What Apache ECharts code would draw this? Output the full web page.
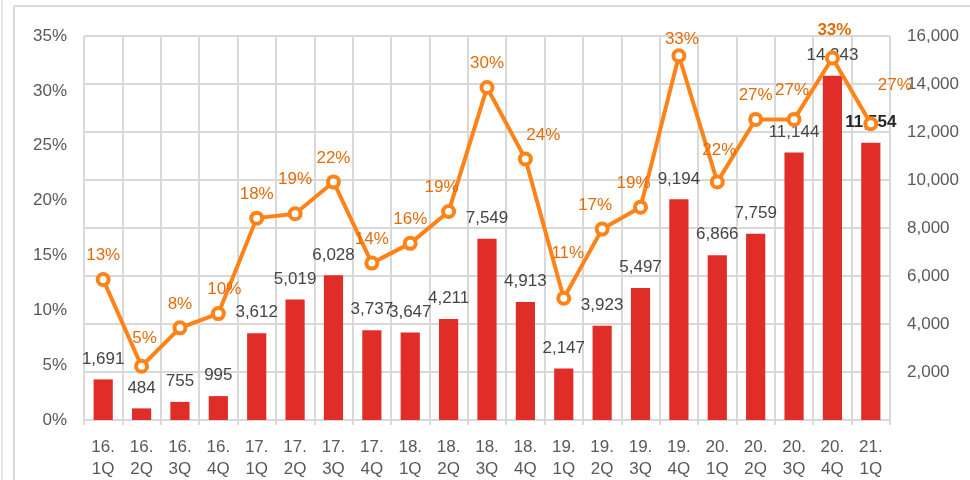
<!DOCTYPE html>
<html>
<head>
<meta charset="utf-8">
<script src="https://cdn.jsdelivr.net/npm/echarts@6/dist/echarts.min.js"></script>
<style>
  html, body { margin: 0; padding: 0; background: #ffffff; }
  #chart { width: 970px; height: 480px; }
</style>
</head>
<body>
<div id="chart"></div>
<script>
// 季度
const quarters = ['16.1Q', '16.2Q', '16.3Q', '16.4Q', '17.1Q', '17.2Q', '17.3Q', '17.4Q', '18.1Q', '18.2Q', '18.3Q',
  '18.4Q', '19.1Q', '19.2Q', '19.3Q', '19.4Q', '20.1Q', '20.2Q', '20.3Q', '20.4Q', '21.1Q']
// 柱状图数值（右轴）
const barValues = [1691, 484, 755, 995, 3612, 5019, 6028, 3737, 3647, 4211, 7549,
  4913, 2147, 3923, 5497, 9194, 6866, 7759, 11144, 14343, 11554]
// 折线图百分比（左轴）
const lineValues = [12.8, 4.9, 8.4, 9.7, 18.4, 18.8, 21.7, 14.3, 16.1, 19.0, 30.3,
  23.8, 11.1, 17.4, 19.4, 33.2, 21.7, 27.4, 27.4, 33.0, 27.0]
// 刻度
const leftTicks = { min: 0, max: 35, interval: 5 }
const rightTicks = { min: 0, max: 16000, interval: 2000 }

// 折线标签的手动偏移（样式）
const lineLabelOffset = {
  1: [3, -4], 3: [6, 0], 5: [0, -10], 9: [-7, 0], 11: [18, 0], 12: [4, -21],
  13: [-7, 0], 14: [-7, 0], 15: [3, 8], 16: [2, -8], 18: [-2, -5], 19: [2, -4], 20: [24, -14]
}

const fontFamily = '"Liberation Sans", Arial, sans-serif'
const last = barValues.length - 1

const barData = barValues.map((v, i) => {
  const item = { value: v }
  if (i === last) {
    item.label = { fontWeight: 'bold', color: '#262626' }
  }
  return item
})

const lineData = lineValues.map((v, i) => {
  const item = { value: v }
  const label = {}
  if (lineLabelOffset[i]) label.offset = lineLabelOffset[i]
  if (i === 19) label.fontWeight = 'bold'
  item.label = label
  return item
})

const myChart = echarts.init(document.getElementById('chart'))

const options = {
  animation: false,
  textStyle: { fontFamily },
  graphic: [
    { type: 'line', shape: { x1: 14, y1: 6, x2: 970, y2: 6 }, style: { stroke: '#dcdcdc', lineWidth: 2 } },
    { type: 'line', shape: { x1: 14, y1: 6, x2: 14, y2: 480 }, style: { stroke: '#dcdcdc', lineWidth: 2 } },
    { type: 'line', shape: { x1: 2, y1: 0, x2: 2, y2: 480 }, style: { stroke: '#e6e6e6', lineWidth: 2 } }
  ],
  grid: {
    left: 84,
    right: 80,
    top: 36,
    bottom: 60
  },
  xAxis: {
    type: 'category',
    data: quarters,
    boundaryGap: true,
    axisLine: { lineStyle: { color: '#d9d9d9', width: 2 } },
    axisTick: { show: true, length: 5, lineStyle: { color: '#d9d9d9', width: 2 } },
    splitLine: { show: true, lineStyle: { color: '#d9d9d9', width: 2 } },
    axisLabel: {
      interval: 0,
      margin: 16,
      color: '#595959',
      fontSize: 17,
      lineHeight: 22,
      formatter: (value) => value.replace('.', '.\n')
    }
  },
  yAxis: [
    {
      type: 'value',
      min: leftTicks.min,
      max: leftTicks.max,
      interval: leftTicks.interval,
      axisLine: { show: false },
      axisTick: { show: false },
      splitLine: { show: false },
      axisLabel: {
        margin: 17,
        color: '#595959',
        fontSize: 17,
        formatter: '{value}%'
      }
    },
    {
      type: 'value',
      min: rightTicks.min,
      max: rightTicks.max,
      interval: rightTicks.interval,
      axisLine: { show: false },
      axisTick: { show: false },
      splitLine: { show: true, lineStyle: { color: '#d9d9d9', width: 2 } },
      axisLabel: {
        margin: 17,
        color: '#595959',
        fontSize: 17,
        showMinLabel: false,
        formatter: (v) => v.toLocaleString('en-US')
      }
    }
  ],
  series: [
    {
      name: 'bar',
      type: 'bar',
      yAxisIndex: 1,
      barWidth: '50%',
      itemStyle: { color: '#E02D28' },
      label: {
        show: true,
        position: 'top',
        distance: 12,
        color: '#454545',
        fontSize: 17,
        formatter: (p) => p.value.toLocaleString('en-US')
      },
      data: barData,
      z: 2
    },
    {
      name: 'line',
      type: 'line',
      yAxisIndex: 0,
      symbol: 'circle',
      symbolSize: 11,
      showAllSymbol: true,
      lineStyle: { color: '#FF8318', width: 4 },
      itemStyle: { color: '#ffffff', borderColor: '#FF8318', borderWidth: 4 },
      label: {
        show: true,
        position: 'top',
        distance: 8,
        color: '#E36C09',
        fontSize: 17,
        formatter: (p) => Math.round(p.value) + '%'
      },
      data: lineData,
      z: 3
    }
  ]
}
myChart.setOption(options)
</script>
</body>
</html>
